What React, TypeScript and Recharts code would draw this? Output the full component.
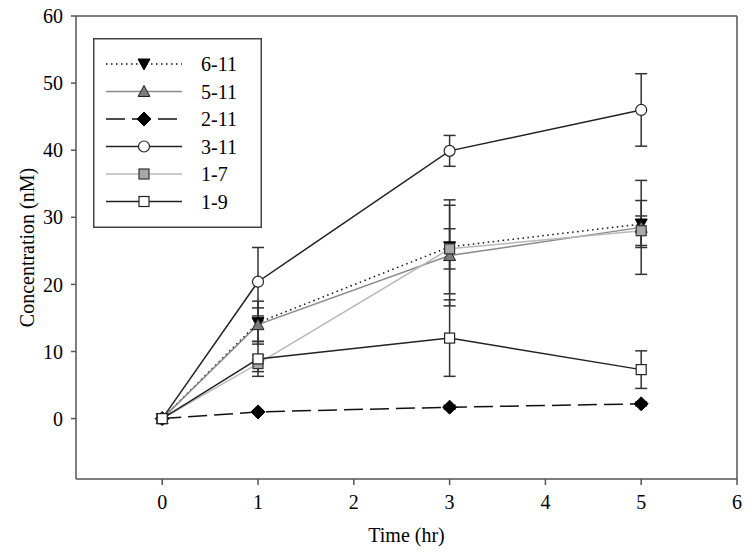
import React from 'react';
import { LineChart, Line, XAxis, YAxis, ErrorBar, ReferenceLine, Legend } from 'recharts';

const times = [0, 1, 3, 5];
const s6_11 = [0, 14.3, 25.6, 29.0];
const e6_11 = [0, 3.2, 7.0, 3.5];
const s5_11 = [0, 14.0, 24.3, 28.5];
const e5_11 = [0, 2.5, 7.5, 7.0];
const s2_11 = [0, 1.0, 1.7, 2.2];
const e2_11 = [0, 0.2, 0.3, 0.3];
const s3_11 = [0, 20.4, 39.9, 46.0];
const e3_11 = [0, 5.1, 2.3, 5.4];
const s1_7 = [0, 8.2, 25.3, 28.0];
const e1_7 = [0, 1.2, 3.0, 2.2];
const s1_9 = [0, 8.9, 12.0, 7.3];
const e1_9 = [0, 2.6, 5.7, 2.8];

const xTicks = [0, 1, 2, 3, 4, 5, 6];
const yTicks = [0, 10, 20, 30, 40, 50, 60];

const FONT = '"Liberation Serif", "Times New Roman", serif';

type MarkerKind = 'down' | 'up' | 'diamond' | 'circle' | 'squareGray' | 'squareOpen';

const series = [
  { key: 'a', name: '6-11', vals: s6_11, errs: e6_11, stroke: '#111', dash: '1.5 3.5', marker: 'down' as MarkerKind },
  { key: 'b', name: '5-11', vals: s5_11, errs: e5_11, stroke: '#8a8a8a', dash: undefined, marker: 'up' as MarkerKind },
  { key: 'c', name: '2-11', vals: s2_11, errs: e2_11, stroke: '#111', dash: '19 7', marker: 'diamond' as MarkerKind },
  { key: 'd', name: '3-11', vals: s3_11, errs: e3_11, stroke: '#222', dash: undefined, marker: 'circle' as MarkerKind },
  { key: 'e', name: '1-7', vals: s1_7, errs: e1_7, stroke: '#b8b8b8', dash: undefined, marker: 'squareGray' as MarkerKind },
  { key: 'f', name: '1-9', vals: s1_9, errs: e1_9, stroke: '#222', dash: undefined, marker: 'squareOpen' as MarkerKind },
];

const data = times.map((t, i) => {
  const row: any = { t };
  series.forEach((s) => {
    row[s.key] = s.vals[i];
    row[s.key + 'Err'] = s.errs[i];
  });
  return row;
});

function Marker({ kind, cx, cy }: { kind: MarkerKind; cx: number; cy: number }) {
  if (cx == null || cy == null || isNaN(cx) || isNaN(cy)) return null;
  switch (kind) {
    case 'down':
      return <polygon points={`${cx - 6},${cy - 5} ${cx + 6},${cy - 5} ${cx},${cy + 6}`} fill="#000" stroke="#000" strokeWidth={1} />;
    case 'up':
      return <polygon points={`${cx - 6},${cy + 5} ${cx + 6},${cy + 5} ${cx},${cy - 6}`} fill="#7a7a7a" stroke="#222" strokeWidth={1} />;
    case 'diamond':
      return <polygon points={`${cx},${cy - 7} ${cx + 7},${cy} ${cx},${cy + 7} ${cx - 7},${cy}`} fill="#000" stroke="#000" strokeWidth={1} />;
    case 'circle':
      return <circle cx={cx} cy={cy} r={5.5} fill="#fff" stroke="#222" strokeWidth={1.2} />;
    case 'squareGray':
      return <rect x={cx - 5} y={cy - 5} width={10} height={10} fill="#a8a8a8" stroke="#333" strokeWidth={1.2} />;
    case 'squareOpen':
      return <rect x={cx - 5} y={cy - 5} width={10} height={10} fill="#fff" stroke="#222" strokeWidth={1.2} />;
  }
  return null;
}

function LegendBox(props: any) {
  const payload = (props.payload || []).slice();
  const order = series.map((s) => s.key);
  payload.sort((a: any, b: any) => order.indexOf(a.dataKey) - order.indexOf(b.dataKey));
  return (
    <svg width={169} height={190} style={{ display: 'block' }}>
      <rect x={0.75} y={0.75} width={167.5} height={188.5} fill="#fff" stroke="#444" strokeWidth={1.5} />
      {payload.map((p: any, i: number) => {
        const s = series.find((x) => x.key === p.dataKey)!;
        const y = 26 + i * 27.5;
        return (
          <g key={s.key}>
            <line x1={13} x2={89} y1={y} y2={y} stroke={s.stroke} strokeWidth={1.5} strokeDasharray={s.dash} />
            <Marker kind={s.marker} cx={51} cy={y} />
            <text x={108} y={y + 7} fontFamily={FONT} fontSize={20} fill="#000">{p.value}</text>
          </g>
        );
      })}
    </svg>
  );
}

export default function App() {
  return (
    <div style={{ position: 'absolute', left: 0, top: 0, background: '#fff' }}>
      <LineChart width={752} height={555} data={data} margin={{ top: 16, right: 15, bottom: 6, left: 16 }}>
        <XAxis
          dataKey="t"
          type="number"
          domain={[-0.9, 6]}
          ticks={xTicks}
          allowDataOverflow
          height={70}
          stroke="#555"
          strokeWidth={1.5}
          tickSize={6}
          tickMargin={10}
          tick={{ fill: '#000', fontFamily: FONT, fontSize: 20 }}
          label={(p: any) => {
            const vb = p.viewBox;
            return (
              <text x={vb.x + vb.width / 2} y={542} textAnchor="middle" fontFamily={FONT} fontSize={20} fill="#000">
                Time (hr)
              </text>
            );
          }}
        />
        <YAxis
          type="number"
          domain={[-9, 60]}
          ticks={yTicks}
          allowDataOverflow
          width={60}
          stroke="#555"
          strokeWidth={1.5}
          tickSize={5}
          tickMargin={8}
          tick={{ fill: '#000', fontFamily: FONT, fontSize: 20 }}
          label={(p: any) => {
            const vb = p.viewBox;
            const cx = 27;
            const cy = vb.y + vb.height / 2;
            return (
              <text x={cx} y={cy} transform={`rotate(-90 ${cx} ${cy})`} textAnchor="middle" dominantBaseline="central" fontFamily={FONT} fontSize={20} fill="#000">
                Concentration (nM)
              </text>
            );
          }}
        />
        <ReferenceLine y={60} stroke="#555" strokeWidth={1.5} />
        <ReferenceLine x={6} stroke="#555" strokeWidth={1.5} />
        <Legend
          layout="vertical"
          align="center"
          verticalAlign="middle"
          content={LegendBox}
          wrapperStyle={{ position: 'absolute', left: 93, top: 38, width: 169, height: 190 }}
        />
        {series.map((s) => (
          <Line
            key={s.key}
            dataKey={s.key}
            name={s.name}
            type="linear"
            stroke={s.stroke}
            strokeWidth={1.5}
            strokeDasharray={s.dash}
            isAnimationActive={false}
            activeDot={false}
            dot={(p: any) => <Marker key={`${s.key}-${p.index}`} kind={s.marker} cx={p.cx} cy={p.cy} />}
          >
            <ErrorBar dataKey={s.key + 'Err'} width={6} stroke="#333" strokeWidth={1.5} direction="y" isAnimationActive={false} />
          </Line>
        ))}
      </LineChart>
    </div>
  );
}
